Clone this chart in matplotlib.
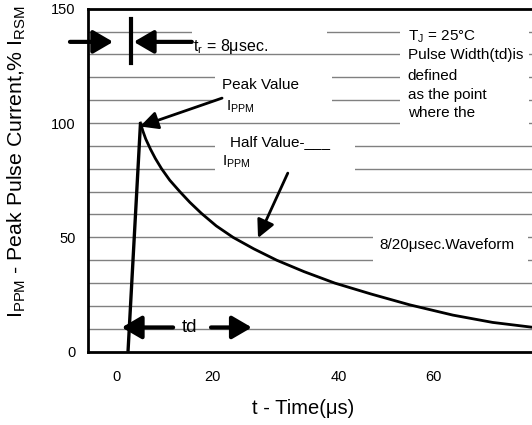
import matplotlib
matplotlib.use("Agg")
from matplotlib import pyplot as plt
from matplotlib.patches import Rectangle

plt.rcParams["font.family"] = "Liberation Sans"
plt.rcParams["mathtext.fontset"] = "custom"
plt.rcParams["mathtext.rm"] = "Liberation Sans"
plt.rcParams["mathtext.it"] = "Liberation Sans"

# 8/20 usec pulse
rise_t = [2.3, 4.9]
rise_v = [0, 100]
decay_t = [4.9, 5.4, 6.0, 7.0, 8.0, 9.3, 11.0, 13.1, 15.2, 17.6, 20.7, 24.2,
           28.5, 33.3, 39.0, 45.4, 53.0, 61.0, 70.0, 78.3, 86.5]
decay_v = [100, 96.5, 93, 88.5, 84.5, 80, 75, 70, 65.3, 60.5, 55, 50,
           45, 40, 35, 30, 25.2, 20.5, 16, 12.8, 10.7]

grid_levels = list(range(10, 150, 10))
ytick_vals = [0, 50, 100, 150]
ytick_labels = ["0", "50", "100", "150"]
# tick labels in the original are not evenly spaced
xtick_pos = [0, 20, 46.2, 66.0]
xtick_labels = ["0", "20", "40", "60"]

fig = plt.figure(figsize=(5.32, 4.25), dpi=100)
ax = fig.add_axes([0.1654, 0.1725, 0.8346, 0.807])
ax.set_xlim(-6.04, 86.5)
ax.set_ylim(0, 150)

# horizontal grid lines
for lvl in grid_levels:
    ax.axhline(lvl, color="#808080", lw=1.0, zorder=1)

# white boxes that hide the grid behind the labels
masks = [(15.6, 132.0, 28.2, 14.0),
         (20.4, 105.0, 24.4, 20.0),
         (59.0, 96.0, 26.9, 49.0),
         (20.4, 75.0, 29.2, 20.0),
         (53.3, 35.0, 32.3, 20.0)]
for (mx, my, mw, mh) in masks:
    ax.add_patch(Rectangle((mx, my), mw, mh, facecolor="white", edgecolor="none", zorder=2))

ax.plot(rise_t, rise_v, color="black", lw=2.4, zorder=4, solid_capstyle="butt")
ax.plot(decay_t, decay_v, color="black", lw=2.0, zorder=4)

# spines
for s in ["left", "bottom", "top"]:
    ax.spines[s].set_linewidth(2.0)
ax.spines["right"].set_visible(False)

ax.set_yticks(ytick_vals, ytick_labels)
ax.set_xticks(xtick_pos, xtick_labels)
ax.tick_params(axis="both", length=0, labelsize=10.5)
ax.tick_params(axis="y", pad=9)
ax.tick_params(axis="x", pad=13)

ax.set_xlabel("t - Time(μs)", fontsize=14.5)
ax.xaxis.set_label_coords(0.484, -0.138)
ax.set_ylabel("I$_{\\mathrm{PPM}}$ - Peak Pulse Current,% I$_{\\mathrm{RSM}}$", fontsize=15.3)
ax.yaxis.set_label_coords(-0.135, 0.555)

big_arrow = dict(arrowstyle="-|>,head_length=0.6,head_width=0.35", color="black", lw=3,
                 mutation_scale=20, shrinkA=0, shrinkB=0)
thin_arrow = dict(arrowstyle="-|>,head_length=0.6,head_width=0.3", color="black", lw=2,
                  mutation_scale=18, shrinkA=0, shrinkB=0)

# rise time marker
ax.annotate("", xy=(-0.8, 135.5), xytext=(-9.8, 135.5), arrowprops=big_arrow,
            annotation_clip=False, zorder=5)
ax.annotate("", xy=(3.5, 135.5), xytext=(15.6, 135.5), arrowprops=big_arrow, zorder=5)
ax.plot([2.9, 2.9], [126.2, 145.5], color="black", lw=3, zorder=5)
ax.text(15.8, 133.5, "t$_r$ = 8μsec.", fontsize=11.5, va="center", ha="left", zorder=6)

# peak value
ax.text(21.9, 116.6, "Peak Value", fontsize=11, va="center", ha="left", zorder=6)
ax.text(22.7, 107.0, "I$_{\\mathrm{PPM}}$", fontsize=11, va="center", ha="left", zorder=6)
ax.annotate("", xy=(4.8, 98.5), xytext=(21.9, 110.9), arrowprops=thin_arrow, zorder=5)

# half value
ax.text(23.5, 91.7, "Half Value-___", fontsize=11, va="center", ha="left", zorder=6)
ax.text(21.9, 83.0, "I$_{\\mathrm{PPM}}$", fontsize=11, va="center", ha="left", zorder=6)
ax.annotate("", xy=(29.4, 49.7), xytext=(35.6, 78.1), arrowprops=thin_arrow, zorder=5)

# notes block
note_lines = ["T$_\\mathrm{J}$ = 25°C", "Pulse Width(td)is", "defined", "as the point", "where the"]
note_y = [137.6, 129.7, 120.4, 112.2, 104.3]
for txt, yy in zip(note_lines, note_y):
    ax.text(60.6, yy, txt, fontsize=11, va="center", ha="left", zorder=6)

ax.text(54.6, 46.6, "8/20μsec.Waveform", fontsize=11, va="center", ha="left", zorder=6)

# td marker
ax.annotate("", xy=(1.0, 10.6), xytext=(11.7, 10.6), arrowprops=big_arrow, zorder=5)
ax.annotate("", xy=(28.1, 10.6), xytext=(19.6, 10.6), arrowprops=big_arrow, zorder=5)
ax.text(15.2, 10.4, "td", fontsize=13.5, va="center", ha="center", zorder=6)

fig.savefig("out.png", dpi=100)
